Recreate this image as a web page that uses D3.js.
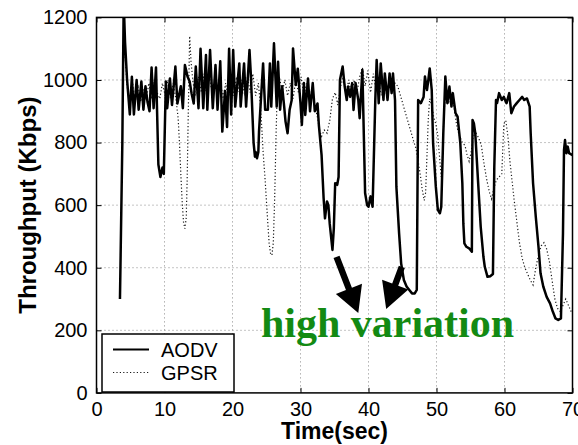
<!DOCTYPE html>
<html><head><meta charset="utf-8">
<script src="https://cdn.jsdelivr.net/npm/d3@7"></script>
<style>body{margin:0;background:#fff}svg{display:block}</style>
</head><body>
<svg id="c" width="578" height="445"></svg>
<script>
// ---------- data ----------
const xTicks = [0,10,20,30,40,50,60,70];
const yTicks = [0,200,400,600,800,1000,1200];
const seriesNames = ["AODV","GPSR"];

const aodvTime = [3.45,3.8,4.0,4.2,4.5,4.9,5.2,5.5,5.9,6.2,6.6,6.9,7.2,7.5,7.8,8.1,8.4,8.75,9.1,9.4,9.7,9.9,10.2,10.4,10.8,11.1,11.6,11.9,12.4,12.7,13.0,13.4,13.7,14.0,14.3,14.6,15.0,15.3,15.7,16.1,16.3,16.7,17.1,17.5,17.8,18.2,18.5,18.9,19.2,19.5,19.8,20.1,20.4,21.0,21.2,21.7,22.0,22.5,22.7,23.1,23.3,23.4,23.6,23.8,23.9,24.5,24.8,25.2,25.5,25.7,26.1,26.5,26.7,27.0,27.3,27.6,27.8,28.1,28.4,28.7,28.9,29.3,29.6,30.0,30.2,30.5,30.7,31.1,31.4,31.8,32.1,32.5,32.7,33.1,33.4,33.6,33.9,34.1,34.3,34.7,34.9,35.1,35.4,35.6,35.8,36.2,36.5,36.8,37.0,37.3,37.6,37.8,38.1,38.5,38.7,39.1,39.5,39.8,40.0,40.3,40.6,41.0,41.2,41.5,41.8,42.2,42.4,42.8,43.1,43.4,43.6,43.9,44.1,44.5,44.8,45.2,45.6,46.0,46.4,46.8,47.1,47.3,47.7,48.1,48.3,48.6,48.8,49.0,49.3,49.5,49.9,50.2,50.5,50.7,51.0,51.3,51.6,51.9,52.2,52.4,52.8,53.1,53.5,53.8,53.95,54.1,54.4,54.8,55.2,55.3,55.5,55.7,56.1,56.5,56.9,57.1,57.5,57.9,58.3,58.5,58.75,58.9,59.2,59.6,59.9,60.3,60.7,61.0,61.4,61.8,62.2,62.6,62.9,63.3,63.7,63.85,64.2,64.6,65.0,65.3,65.7,66.2,66.7,67.1,67.5,67.9,68.3,68.6,68.75,68.9,69.1,69.3,69.5,70.0];
const aodvKbps = [300,800,1250,1120,1000,890,1010,890,1000,905,995,905,980,930,900,1040,910,1040,730,690,720,700,995,910,1005,920,1043,925,980,910,1048,1010,995,955,925,1043,910,1100,910,1080,905,1096,910,1048,905,1060,835,965,850,1100,890,1096,915,1053,915,1053,915,1096,1016,800,755,770,750,770,835,1053,905,905,1053,915,1117,915,1058,905,980,915,867,830,905,935,1101,984,1036,925,856,990,888,1005,900,990,900,925,856,760,622,558,612,600,540,457,526,670,665,690,1000,1043,979,936,979,946,990,904,990,936,878,1032,639,600,595,628,595,936,1064,926,1053,936,1021,936,1021,958,1021,936,659,510,414,361,340,329,318,318,329,936,926,946,1011,968,1000,1037,968,798,659,585,574,595,830,1011,926,979,915,958,894,883,798,670,540,478,467,462,451,872,861,830,680,531,435,403,371,373,380,723,936,926,958,936,946,926,958,894,915,926,936,946,936,941,915,830,670,563,467,382,340,307,286,260,238,233,238,510,776,808,766,787,766,760];

const gpsrTime = [4.0,4.2,4.5,4.9,5.3,5.7,6.1,6.5,6.9,7.3,7.7,8.1,8.5,8.9,9.3,9.7,10.1,10.5,10.9,11.3,11.7,12.0,12.2,12.4,12.6,12.8,13.0,13.2,13.35,13.5,13.7,13.9,14.2,14.6,15.0,15.4,15.8,16.2,16.6,17.0,17.4,17.8,18.2,18.6,19.0,19.4,19.8,20.2,20.6,21.0,21.4,21.8,22.2,22.6,23.0,23.4,23.8,24.1,24.3,24.5,24.8,25.0,25.2,25.4,25.6,25.8,26.0,26.2,26.4,26.6,26.9,27.3,27.7,28.1,28.5,28.9,29.3,29.7,30.1,30.5,30.9,31.3,31.7,32.1,32.5,32.8,33.1,33.5,33.9,34.3,34.7,35.1,35.5,35.9,36.3,36.7,37.1,37.5,37.9,38.3,38.7,39.1,39.5,39.9,40.3,40.7,41.1,41.5,41.9,42.3,42.7,43.1,43.5,43.9,44.3,44.7,45.1,45.5,45.9,46.3,46.7,47.0,47.3,47.6,47.9,48.2,48.4,48.6,48.8,49.0,49.3,49.6,49.9,50.2,50.5,50.7,50.9,51.1,51.4,51.8,52.2,52.6,53.0,53.4,53.8,54.2,54.5,54.8,55.1,55.4,55.8,56.2,56.6,57.0,57.4,57.8,58.1,58.4,58.8,59.2,59.6,59.9,60.2,60.5,60.8,61.1,61.4,61.8,62.2,62.6,63.0,63.4,63.8,64.2,64.6,65.0,65.4,65.8,66.2,66.6,67.0,67.4,67.8,68.2,68.6,69.0,69.4,69.8,70.0];
const gpsrKbps = [1150,1080,980,920,990,930,985,930,970,935,990,940,1000,960,940,990,950,1000,940,990,935,880,800,700,610,545,525,560,700,900,1140,1060,990,950,1010,960,1020,950,1010,960,1000,950,1000,940,990,940,1000,950,1010,960,1000,950,1010,960,1020,950,990,920,850,770,680,610,540,475,445,440,480,620,820,980,1010,960,1000,950,990,940,1000,960,1010,950,990,940,970,920,880,840,820,840,830,870,940,960,920,980,1010,960,1000,950,1000,960,1010,1040,980,1030,960,1020,970,1000,950,990,950,1000,960,990,980,950,920,890,860,830,800,780,740,700,650,615,640,760,880,940,920,880,860,820,740,690,760,900,960,930,950,910,850,820,800,790,760,740,770,820,830,815,790,730,680,640,620,650,680,690,700,860,870,820,740,680,620,550,480,430,400,380,360,345,400,440,470,480,460,420,360,300,270,260,280,300,280,260,255];

// annotation anchors in data units
const noteText = "high variation";
const noteAt = [42.8, 180];
const arrows = [
  {from:[35.3,435], to:[38.5,255]},
  {from:[44.9,403], to:[42.6,268]}
];

// ---------- layout ----------
const m={l:96.5,r:572.5,t:17.4,b:392.9};
const svg=d3.select("#c");
const x=d3.scaleLinear().domain([0,70]).range([m.l,m.r]);
const y=d3.scaleLinear().domain([0,1200]).range([m.b,m.t]);
const sans="'Liberation Sans', Arial, Helvetica, sans-serif";
const fmt=d3.format("d");

// grid
const g=svg.append("g");
g.selectAll(".gx").data(xTicks.slice(1,-1)).join("line")
  .attr("x1",d=>x(d)).attr("x2",d=>x(d)).attr("y1",m.t).attr("y2",m.b)
  .attr("stroke","#8a8a8a").attr("stroke-width",1).attr("stroke-dasharray","1,3");
g.selectAll(".gy").data(yTicks.slice(1,-1)).join("line")
  .attr("y1",d=>y(d)).attr("y2",d=>y(d)).attr("x1",m.l).attr("x2",m.r)
  .attr("stroke","#8a8a8a").attr("stroke-width",1).attr("stroke-dasharray","1,3");

// clip
svg.append("clipPath").attr("id","clip").append("rect")
  .attr("x",m.l).attr("y",m.t).attr("width",m.r-m.l).attr("height",m.b-m.t);

const line=d3.line().x(d=>x(d[0])).y(d=>y(d[1]));
const gpsr=gpsrTime.map((t,i)=>[t,gpsrKbps[i]]);
const aodv=aodvTime.map((t,i)=>[t,aodvKbps[i]]);

svg.append("path").attr("clip-path","url(#clip)").attr("d",line(gpsr))
  .attr("fill","none").attr("stroke","#1a1a1a").attr("stroke-width",1.2)
  .attr("stroke-dasharray","1.2,2.2");
svg.append("path").attr("clip-path","url(#clip)").attr("d",line(aodv))
  .attr("fill","none").attr("stroke","#000").attr("stroke-width",2.5)
  .attr("stroke-linejoin","round");

// axes (box with inward ticks)
const ax=svg.append("g");
ax.append("g").attr("transform",`translate(0,${m.b})`)
  .call(d3.axisBottom(x).tickValues(xTicks).tickFormat(fmt).tickSizeInner(-5).tickSizeOuter(0).tickPadding(9))
  .call(s=>{s.select(".domain").remove();
    s.selectAll("text").attr("font-family",sans).attr("font-size",20).attr("fill","#000");
    s.selectAll("line").attr("stroke","#000");});
ax.append("g").attr("transform",`translate(0,${m.t})`)
  .call(d3.axisTop(x).tickValues(xTicks).tickSizeInner(-5).tickSizeOuter(0).tickFormat(""))
  .call(s=>{s.select(".domain").remove();s.selectAll("line").attr("stroke","#000");});
ax.append("g").attr("transform",`translate(${m.l},0)`)
  .call(d3.axisLeft(y).tickValues(yTicks).tickFormat(fmt).tickSizeInner(-5).tickSizeOuter(0).tickPadding(9))
  .call(s=>{s.select(".domain").remove();
    s.selectAll("text").attr("font-family",sans).attr("font-size",20).attr("fill","#000");
    s.selectAll("line").attr("stroke","#000");});
ax.append("g").attr("transform",`translate(${m.r},0)`)
  .call(d3.axisRight(y).tickValues(yTicks).tickSizeInner(-5).tickSizeOuter(0).tickFormat(""))
  .call(s=>{s.select(".domain").remove();s.selectAll("line").attr("stroke","#000");});
svg.append("rect").attr("x",m.l).attr("y",m.t).attr("width",m.r-m.l).attr("height",m.b-m.t)
  .attr("fill","none").attr("stroke","#000").attr("stroke-width",1.5);

// axis titles
svg.append("text").attr("x",(m.l+m.r)/2).attr("y",439).attr("text-anchor","middle")
  .attr("font-family",sans).attr("font-weight","bold").attr("font-size",23).text("Time(sec)");
svg.append("text").attr("transform",`translate(36,${(m.t+m.b)/2}) rotate(-90)`).attr("text-anchor","middle")
  .attr("font-family",sans).attr("font-weight","bold").attr("font-size",24).text("Throughput (Kbps)");

// arrows
arrows.forEach(a=>{
  const x0=x(a.from[0]),y0=y(a.from[1]),x1=x(a.to[0]),y1=y(a.to[1]);
  const dx=x1-x0,dy=y1-y0,L=Math.hypot(dx,dy),ux=dx/L,uy=dy/L,px=-uy,py=ux;
  const hl=26,hw=14,sw=3.2;
  const bx=x1-ux*hl,by=y1-uy*hl;
  const pts=[[x0+px*sw,y0+py*sw],[bx+px*sw,by+py*sw],[bx+px*hw,by+py*hw],[x1,y1],
             [bx-px*hw,by-py*hw],[bx-px*sw,by-py*sw],[x0-px*sw,y0-py*sw]];
  svg.append("path").attr("d","M"+pts.map(p=>p.join(",")).join("L")+"Z").attr("fill","#000");
});

// annotation text
svg.append("text").attr("x",x(noteAt[0])).attr("y",y(noteAt[1])).attr("text-anchor","middle")
  .attr("font-family","'Liberation Serif','Times New Roman',serif").attr("font-weight","bold")
  .attr("font-size",42).attr("fill","#138a13").text(noteText);

// legend
const lg=svg.append("g");
lg.append("rect").attr("x",102).attr("y",334).attr("width",132).attr("height",58)
  .attr("fill","#fff").attr("stroke","#000").attr("stroke-width",1.5);
const items=lg.selectAll(".li").data(seriesNames).join("g").attr("transform",(d,i)=>`translate(0,${349.5+i*23})`);
items.append("line").attr("x1",113).attr("x2",149).attr("y1",0).attr("y2",0)
  .attr("stroke",(d,i)=>i?"#1a1a1a":"#000").attr("stroke-width",(d,i)=>i?1.2:2.2)
  .attr("stroke-dasharray",(d,i)=>i?"1.2,2.2":null);
items.append("text").attr("x",161).attr("y",0).attr("dy","0.36em")
  .attr("font-family",sans).attr("font-size",20).text(d=>d);
</script>
</body></html>
